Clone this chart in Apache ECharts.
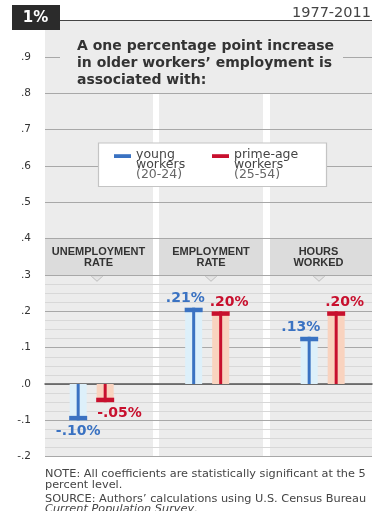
<!DOCTYPE html>
<html><head><meta charset="utf-8">
<script src="https://cdn.jsdelivr.net/npm/echarts@6/dist/echarts.min.js"></script>
<style>html,body{margin:0;padding:0;background:#fff}#c{width:374px;height:511px}</style>
</head><body><div id="c"></div>
<script>
// ---- data ----
const categories = ['UNEMPLOYMENT RATE', 'EMPLOYMENT RATE', 'HOURS WORKED'];
const youngValues = [-0.10, 0.21, 0.13];
const primeValues = [-0.05, 0.20, 0.20];
const seriesNames = ['young workers', 'prime-age workers'];
const seriesAges = ['(20-24)', '(25-54)'];
const yTickValues = [-0.2, -0.1, 0.0, 0.1, 0.2, 0.3, 0.4, 0.5, 0.6, 0.7, 0.8, 0.9, 1.0];
const yTickLabels = ['-.2', '-.1', '.0', '.1', '.2', '.3', '.4', '.5', '.6', '.7', '.8', '.9', '1%'];
const titleText = 'A one percentage point increase\nin older workers\u2019 employment is\nassociated with:';
const periodText = '1977-2011';

// ---- style ----
const FONT = '"DejaVu Sans"';
const LIGHT = ['#ddf0fa', '#f9d3bf'];
const DARK = ['#3a72c2', '#c8102e'];
const BAR_OFF = [-13.5, 13.5];
const GRID_TOP = 20.6, GRID_BOTTOM = 54.3, GRID_LEFT = 45, GRID_RIGHT = 2;
const H = 511 - GRID_TOP - GRID_BOTTOM;
const yPix = v => GRID_TOP + (1.0 - v) / 1.2 * H; // only for decoration layout
const panels = [[45, 153], [159, 263], [270, 372]];
const headerCenters = [98.5, 211, 318.5];
const chevronCenters = [97, 211, 319];

function fmt(v) {
  const s = String(Math.round(Math.abs(v) * 100)).padStart(2, '0');
  return (v < 0 ? '-' : '') + '.' + s + '%';
}

function barRender(g) {
  return function (params, api) {
    const i = api.value(0), v = api.value(1);
    const p0 = api.coord([i, 0]), p1 = api.coord([i, v]);
    const cx = p0[0] + BAR_OFF[g];
    const y0 = p0[1], y1 = p1[1];
    const top = Math.min(y0, y1), h = Math.abs(y1 - y0);
    const pos = v >= 0;
    const capH = 4.5;
    let lx, ly, align;
    if (g === 0) {
      if (pos) { lx = cx + 11; align = 'right'; ly = y1 - 9; }
      else { lx = cx; align = 'center'; ly = y1 + 11.5; }
    } else {
      if (pos) { lx = cx - 11; align = 'left'; ly = y1 - 9; }
      else { lx = cx - 8; align = 'left'; ly = y1 + 10.7; }
    }
    return {
      type: 'group', children: [
        { type: 'rect', shape: { x: cx - 8.5, y: top, width: 17, height: h }, style: { fill: LIGHT[g] } },
        { type: 'rect', shape: { x: cx - 1.5, y: top, width: 3, height: h }, style: { fill: DARK[g] } },
        { type: 'rect', shape: { x: cx - 9, y: pos ? y1 : y1 - capH, width: 18, height: capH }, style: { fill: DARK[g] } },
        { type: 'text', style: { text: fmt(v), x: lx, y: ly, align: align, verticalAlign: 'middle', fill: DARK[g], font: 'bold 14px ' + FONT } }
      ]
    };
  };
}

const graphics = [];
// background panel
graphics.push({ type: 'rect', z: -10, shape: { x: GRID_LEFT, y: GRID_TOP, width: 374 - GRID_LEFT - GRID_RIGHT, height: H }, style: { fill: '#ececec' } });
// white gaps between panels
for (let k = 0; k < panels.length - 1; k++) {
  graphics.push({ type: 'rect', z: -9, shape: { x: panels[k][1], y: yPix(0.8), width: panels[k + 1][0] - panels[k][1], height: yPix(-0.2) - yPix(0.8) }, style: { fill: '#ffffff' } });
}
// header bands, labels, chevrons
panels.forEach((p, k) => {
  graphics.push({ type: 'rect', z: -8, shape: { x: p[0], y: yPix(0.4), width: p[1] - p[0], height: yPix(0.3) - yPix(0.4) }, style: { fill: '#dcdcdc' } });
  const c = chevronCenters[k], yb = yPix(0.3) + 0.8;
  graphics.push({ type: 'polygon', z: -7, shape: { points: [[c - 6, yb], [c + 6, yb], [c, yb + 5.5]] }, style: { fill: '#e4e4e4', stroke: '#bdbdbd', lineWidth: 1 } });
  graphics.push({ type: 'rect', z: -6, shape: { x: c - 5.5, y: yb - 0.3, width: 11, height: 1 }, style: { fill: '#e4e4e4' } });
  graphics.push({ type: 'text', z: 5, style: { text: categories[k].replace(' ', '\n'), x: headerCenters[k], y: (yPix(0.4) + yPix(0.3)) / 2 + 0.5, align: 'center', verticalAlign: 'middle', font: 'bold 11px "Liberation Sans"', lineHeight: 10.7, fill: '#333' } });
});
// title box
graphics.push({ type: 'rect', z: 5, shape: { x: 60, y: 30, width: 283, height: 59 }, style: { fill: '#ececec' } });
graphics.push({ type: 'text', z: 6, style: { text: titleText, x: 77, y: 38.3, verticalAlign: 'top', font: 'bold 14px ' + FONT, lineHeight: 16.7, fill: '#333' } });
// 1% box and period
graphics.push({ type: 'rect', z: 5, shape: { x: 12, y: 5, width: 48, height: 25 }, style: { fill: '#2b2b2b' } });
graphics.push({ type: 'text', z: 6, style: { text: yTickLabels[yTickLabels.length - 1], x: 35.5, y: 18.5, align: 'center', verticalAlign: 'middle', font: 'bold 15px ' + FONT, fill: '#fff' } });
graphics.push({ type: 'text', z: 6, style: { text: periodText, x: 371, y: 13, align: 'right', verticalAlign: 'middle', font: '14.5px ' + FONT, fill: '#444' } });
// legend
graphics.push({ type: 'rect', z: 5, shape: { x: 98.5, y: 143, width: 228, height: 43.5 }, style: { fill: '#fff', stroke: '#c4c4c4', lineWidth: 1.2 } });
const legX = [114, 212];
seriesNames.forEach((n, g) => {
  graphics.push({ type: 'rect', z: 6, shape: { x: legX[g], y: 154.2, width: 17, height: 3.8 }, style: { fill: DARK[g] } });
  const parts = n.split(' ');
  graphics.push({ type: 'text', z: 6, style: {
    text: '{a|' + parts[0] + '}\n{a|' + parts.slice(1).join(' ') + '}\n{b|' + seriesAges[g] + '}',
    x: legX[g] + 22, y: 150, verticalAlign: 'top',
    rich: {
      a: { fill: '#444', fontSize: 12.5, fontFamily: 'DejaVu Sans', lineHeight: 10 },
      b: { fill: '#666', fontSize: 12.5, fontFamily: 'DejaVu Sans', lineHeight: 10 }
    }
  } });
});
// notes
graphics.push({ type: 'text', z: 6, style: {
  text: 'NOTE: All coefficients are statistically significant at the 5\npercent level.',
  x: 45, y: 468.3, verticalAlign: 'top', font: '11.3px ' + FONT, lineHeight: 11.5, fill: '#444' } });
graphics.push({ type: 'text', z: 6, style: {
  text: '{r|SOURCE: Authors\u2019 calculations using U.S. Census Bureau}\n{i|Current Population Survey}{r|.}',
  x: 45, y: 494.5, verticalAlign: 'top',
  rich: {
    r: { fill: '#444', fontSize: 11.3, fontFamily: 'DejaVu Sans', lineHeight: 10 },
    i: { fill: '#444', fontSize: 11.3, fontFamily: 'DejaVu Sans', fontStyle: 'italic', lineHeight: 10 }
  } } });

const lineColors = yTickValues.map((v, i) => i === yTickValues.length - 1 ? '#444' : '#a8a8a8');

const option = {
  animation: false,
  backgroundColor: '#fff',
  grid: [
    { left: GRID_LEFT, right: GRID_RIGHT, top: GRID_TOP, bottom: GRID_BOTTOM },
    { left: GRID_LEFT, right: GRID_RIGHT, top: yPix(0.3), bottom: GRID_BOTTOM }
  ],
  xAxis: [
    { gridIndex: 0, type: 'value', min: -0.4041, max: 2.4271,
      axisLine: { show: true, onZero: true, lineStyle: { color: '#555', width: 1.5 } },
      axisLabel: { show: false }, axisTick: { show: false }, splitLine: { show: false } },
    { gridIndex: 1, type: 'value', min: 0, max: 1,
      axisLine: { show: false }, axisLabel: { show: false }, axisTick: { show: false }, splitLine: { show: false } }
  ],
  yAxis: [
    { gridIndex: 0, type: 'value', min: -0.2, max: 1.0, interval: 0.1,
      axisLine: { show: false }, axisTick: { show: false },
      axisLabel: { margin: 14, color: '#333', fontSize: 10.5, fontFamily: 'DejaVu Sans',
        formatter: v => { const i = Math.round((v + 0.2) * 10); return i === yTickLabels.length - 1 ? '' : yTickLabels[i]; } },
      splitLine: { show: true, lineStyle: { color: lineColors, width: 1 } } },
    { gridIndex: 1, type: 'value', min: -0.2, max: 0.3, interval: 0.1,
      axisLine: { show: false }, axisTick: { show: false }, axisLabel: { show: false },
      splitLine: { show: false },
      minorTick: { show: false, splitNumber: 4 },
      minorSplitLine: { show: true, lineStyle: { color: '#d8d8d8', width: 1 } } }
  ],
  graphic: { elements: graphics },
  series: [
    { type: 'custom', name: seriesNames[0], xAxisIndex: 0, yAxisIndex: 0, z: 3,
      data: youngValues.map((v, i) => [i, v]), renderItem: barRender(0) },
    { type: 'custom', name: seriesNames[1], xAxisIndex: 0, yAxisIndex: 0, z: 3,
      data: primeValues.map((v, i) => [i, v]), renderItem: barRender(1) }
  ]
};
const chart = echarts.init(document.getElementById('c'));
chart.setOption(option);
</script></body></html>
